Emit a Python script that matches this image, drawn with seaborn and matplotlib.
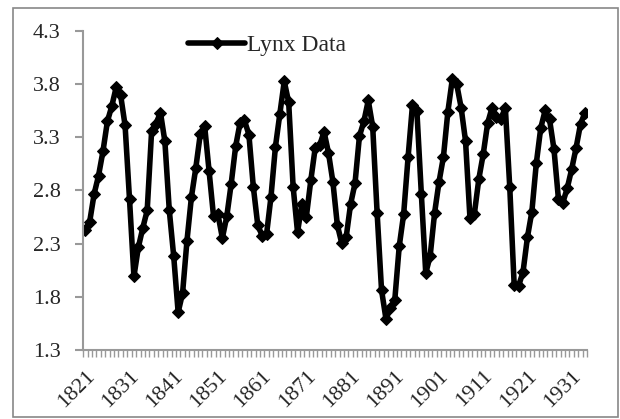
import numpy as np
import pandas as pd
import matplotlib
matplotlib.use('Agg')
import matplotlib.pyplot as plt
import seaborn as sns
from matplotlib.patches import Rectangle
from matplotlib.ticker import FixedLocator

# log10 of the Canadian lynx trappings, 1821-1934
years = list(range(1821, 1935))
lynx_log = [
    2.430, 2.507, 2.767, 2.940, 3.169, 3.450, 3.594, 3.774, 3.695, 3.411,
    2.718, 1.991, 2.265, 2.446, 2.612, 3.359, 3.429, 3.533, 3.261, 2.612,
    2.179, 1.653, 1.833, 2.328, 2.737, 3.014, 3.328, 3.404, 2.981, 2.558,
    2.576, 2.352, 2.556, 2.864, 3.214, 3.435, 3.458, 3.326, 2.835, 2.476,
    2.373, 2.389, 2.742, 3.210, 3.520, 3.827, 3.629, 2.837, 2.407, 2.675,
    2.554, 2.894, 3.202, 3.224, 3.352, 3.154, 2.879, 2.476, 2.303, 2.360,
    2.671, 2.867, 3.310, 3.449, 3.647, 3.400, 2.590, 1.863, 1.591, 1.690,
    1.771, 2.274, 2.576, 3.111, 3.605, 3.543, 2.769, 2.021, 2.185, 2.588,
    2.880, 3.116, 3.540, 3.845, 3.800, 3.579, 3.264, 2.538, 2.582, 2.907,
    3.142, 3.433, 3.580, 3.490, 3.475, 3.579, 2.829, 1.908, 1.903, 2.033,
    2.360, 2.601, 3.054, 3.386, 3.553, 3.468, 3.187, 2.723, 2.686, 2.821,
    3.000, 3.201, 3.424, 3.531,
]
y_ticks = [1.3, 1.8, 2.3, 2.8, 3.3, 3.8, 4.3]
label_years = list(range(1821, 1935, 10))

df = pd.DataFrame({'pos': np.arange(len(years)), 'value': lynx_log})

sns.set_style('white')
plt.rcParams['font.family'] = ['Liberation Serif', 'DejaVu Serif']
plt.rcParams['ytick.left'] = True
plt.rcParams['xtick.bottom'] = True

fig = plt.figure(figsize=(6.2, 4.19), dpi=100)
ax = fig.add_axes([0.134, 0.165, 0.813, 0.761])

sns.lineplot(data=df, x='pos', y='value', ax=ax, color='black', linewidth=4,
             marker='D', markersize=6.5, markeredgecolor='black', label='Lynx Data')

ax.set_xlim(-0.5, len(years) - 0.5)
ax.set_ylim(1.3, 4.3)
ax.set_yticks(y_ticks)
ax.set_yticklabels([f'{v:.1f}' for v in y_ticks], fontsize=16)
major_pos = [years.index(y) for y in label_years]
ax.set_xticks(major_pos)
ax.set_xticklabels([str(y) for y in label_years], rotation=45, ha='right',
                   rotation_mode='anchor', fontsize=16)
ax.xaxis.set_minor_locator(FixedLocator(np.arange(len(years) + 1) - 0.5))
ax.tick_params(axis='x', which='major', bottom=True, length=0, pad=12)
ax.tick_params(axis='x', which='minor', bottom=True, length=5, width=1,
               color='#999999', direction='out')
ax.tick_params(axis='y', which='major', left=True, length=6, width=1.5,
               color='#999999', direction='out', pad=10)
ax.set_xlabel('')
ax.set_ylabel('')

for side in ['top', 'right']:
    ax.spines[side].set_visible(False)
for side in ['left', 'bottom']:
    ax.spines[side].set_color('#999999')
    ax.spines[side].set_linewidth(1.5)

leg = ax.legend(loc='upper left', bbox_to_anchor=(0.19, 1.018), frameon=False,
                fontsize=17, handlelength=2.4, handletextpad=0.1, borderaxespad=0)

fig.patches.append(Rectangle((13 / 620, 2 / 419), 605 / 620, 409 / 419,
                             transform=fig.transFigure, fill=False,
                             edgecolor='#888888', linewidth=1.2))

fig.savefig('out.png', dpi=100)
